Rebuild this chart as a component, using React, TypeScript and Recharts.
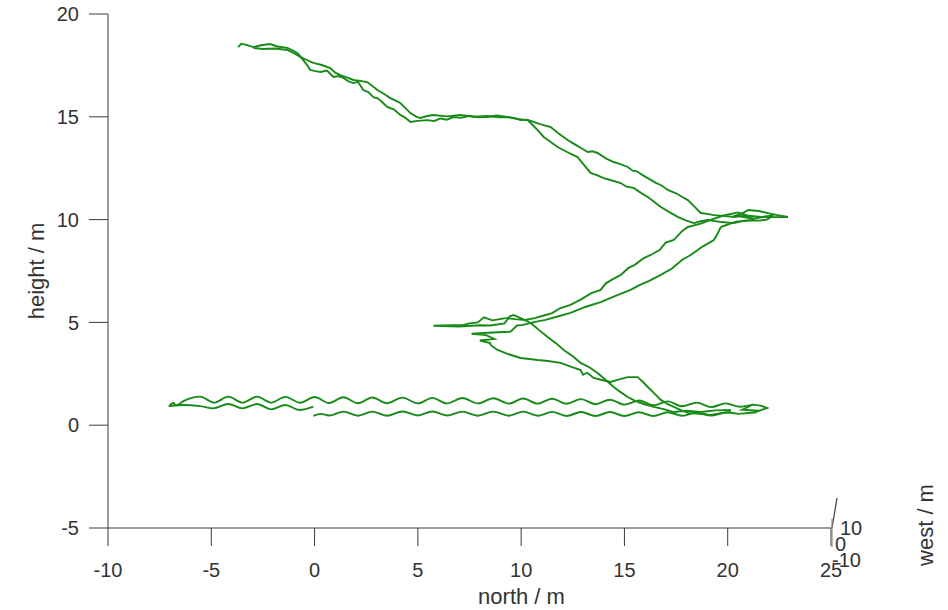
import React from 'react';
import { ComposedChart, Line, XAxis, YAxis } from 'recharts';

type Pt = [number, number];

const northTicks = [-10, -5, 0, 5, 10, 15, 20, 25];
const heightTicks = [-5, 0, 5, 10, 15, 20];
const westTicks = ['10', '0', '-10'];

// bottom walk (north, height)
const lowerWave: Pt[] = [
  [-0.06, 0.45], [0.3, 0.55], [0.7, 0.47], [1.4, 0.66], [2.1, 0.46], [2.8, 0.66], [3.5, 0.46],
  [4.25, 0.67], [5.0, 0.47], [5.7, 0.67], [6.4, 0.47], [7.15, 0.66], [7.9, 0.46], [8.65, 0.66],
  [9.4, 0.46], [10.1, 0.66], [10.8, 0.46], [11.5, 0.65], [12.2, 0.45], [12.9, 0.64], [13.6, 0.45],
  [14.3, 0.64], [15.0, 0.45], [15.7, 0.63], [16.4, 0.45], [17.1, 0.63], [17.8, 0.46], [18.5, 0.62],
  [19.2, 0.47], [19.9, 0.62], [20.5, 0.55],
];

const upperWave: Pt[] = [
  [-7.05, 0.9], [-6.85, 1.08], [-6.7, 0.97], [-6.3, 1.2], [-5.55, 1.39], [-4.85, 1.1], [-4.18, 1.39],
  [-3.5, 1.1], [-2.78, 1.39], [-2.1, 1.1], [-1.42, 1.38], [-0.7, 1.09], [0.0, 1.37], [0.7, 1.08],
  [1.39, 1.36], [2.1, 1.07], [2.8, 1.35], [3.5, 1.07], [4.25, 1.34], [5.0, 1.06], [5.7, 1.33],
  [6.4, 1.06], [7.16, 1.32], [7.9, 1.06], [8.66, 1.31], [9.4, 1.05], [10.1, 1.3], [10.8, 1.05],
  [11.5, 1.29], [12.2, 1.04], [12.9, 1.27], [13.6, 1.02], [14.3, 1.24], [15.0, 1.0], [15.7, 1.2],
  [16.4, 0.97], [17.1, 1.16], [17.8, 0.92], [18.5, 1.1], [19.2, 0.88], [19.9, 1.06], [20.6, 0.9],
  [21.2, 1.0],
];

const stubWave: Pt[] = [
  [-7.0, 0.93], [-6.36, 0.98], [-5.54, 0.93], [-4.91, 0.82], [-4.18, 1.03], [-3.5, 0.82],
  [-2.78, 1.03], [-2.1, 0.77], [-1.42, 0.98], [-0.73, 0.74], [-0.06, 0.9],
];

const rightLoop: Pt[] = [
  [20.5, 0.55], [21.3, 0.62], [21.9, 0.84], [21.6, 0.95], [21.2, 1.0], [20.7, 0.75], [21.5, 0.7],
];

// upper staircase, two passes
const topPassA: Pt[] = [
  [-3.7, 18.39], [-3.55, 18.55], [-3.3, 18.5], [-2.97, 18.39], [-2.6, 18.48], [-2.15, 18.54],
  [-1.8, 18.42], [-1.32, 18.35], [-1.0, 18.2], [-0.84, 18.1], [-0.7, 17.95], [-0.55, 17.76],
  [-0.35, 17.5], [-0.21, 17.28], [0.05, 17.22], [0.28, 17.18], [0.6, 17.25], [0.91, 16.94],
  [1.15, 16.98], [1.39, 16.89], [1.65, 16.72], [1.88, 16.64], [2.1, 16.7], [2.36, 16.3],
  [2.6, 16.2], [2.85, 15.96], [3.05, 15.9], [3.2, 15.78], [3.52, 15.48], [3.85, 15.35],
  [4.15, 15.09], [4.4, 14.95], [4.64, 14.75], [5.0, 14.8], [5.46, 14.84], [5.8, 14.8],
  [6.1, 14.92], [6.4, 14.86], [6.72, 14.99], [7.1, 14.95], [7.5, 15.05], [7.9, 14.97],
  [8.37, 14.99], [8.8, 15.06], [9.34, 14.99], [9.7, 14.93], [9.97, 14.84], [10.3, 14.86],
  [10.6, 14.75], [11.0, 14.62], [11.43, 14.5], [11.8, 14.2], [12.0, 14.05], [12.25, 13.87],
  [12.5, 13.72], [12.7, 13.6], [13.0, 13.42], [13.22, 13.29], [13.45, 13.32], [13.7, 13.24],
  [14.1, 12.98], [14.48, 12.8], [14.8, 12.7], [15.16, 12.56], [15.4, 12.38], [15.6, 12.35],
  [15.9, 12.15], [16.13, 12.02], [16.5, 11.8], [16.8, 11.66], [17.1, 11.44], [17.5, 11.28],
  [17.8, 11.1], [18.07, 10.95], [18.4, 10.62], [18.7, 10.32], [19.0, 10.28], [19.33, 10.22],
  [19.8, 10.18], [20.3, 10.13], [20.9, 10.2], [21.6, 10.13], [22.3, 10.12], [22.91, 10.13],
];

const topPassB: Pt[] = [
  [-2.97, 18.35], [-2.5, 18.3], [-1.9, 18.32], [-1.32, 18.25], [-1.0, 18.1], [-0.69, 17.91],
  [-0.35, 17.75], [-0.06, 17.62], [0.35, 17.52], [0.76, 17.37], [1.0, 17.15], [1.25, 17.03],
  [1.55, 16.92], [1.88, 16.79], [2.2, 16.75], [2.55, 16.69], [2.8, 16.5], [3.04, 16.3],
  [3.35, 16.12], [3.67, 15.91], [3.9, 15.8], [4.15, 15.67], [4.4, 15.42], [4.64, 15.18],
  [4.9, 15.02], [5.12, 14.94], [5.45, 15.04], [5.75, 15.09], [6.4, 15.02], [7.06, 15.09],
  [7.7, 15.0], [8.37, 15.04], [8.9, 14.97], [9.34, 14.99], [9.8, 14.9], [10.31, 14.84],
  [10.46, 14.7], [10.8, 14.35], [11.09, 14.02], [11.4, 13.8], [11.76, 13.53], [12.2, 13.3],
  [12.73, 13.04], [13.05, 12.65], [13.36, 12.27], [13.7, 12.15], [13.99, 12.02], [14.4, 11.9],
  [14.82, 11.78], [15.1, 11.6], [15.45, 11.54], [15.8, 11.3], [16.13, 11.1], [16.45, 10.85],
  [16.76, 10.61], [17.2, 10.35], [17.58, 10.13], [18.0, 9.95], [18.36, 9.83], [18.7, 9.92],
  [19.04, 9.98], [19.7, 9.88], [20.3, 9.83], [20.8, 9.95], [21.27, 9.98],
];

const rightKnot: Pt[] = [
  [22.91, 10.13], [22.4, 10.22], [22.0, 10.3], [21.5, 10.42], [21.0, 10.47], [20.7, 10.3],
  [20.4, 10.2], [20.9, 10.1], [21.3, 10.05], [21.8, 10.15], [22.2, 10.2], [21.9, 10.0],
  [21.5, 9.95], [21.0, 9.95], [20.4, 9.9], [19.67, 9.64],
];

// middle: rising and falling passes
const risePassA: Pt[] = [
  [21.27, 9.98], [20.8, 10.25], [20.5, 10.35], [19.8, 10.2], [19.2, 10.0], [18.7, 9.8],
  [18.07, 9.64], [17.8, 9.45], [17.39, 9.01], [17.0, 8.88], [16.7, 8.52], [16.27, 8.28],
  [15.9, 8.1], [15.5, 7.8], [15.2, 7.65], [14.82, 7.31], [14.4, 7.08], [14.1, 6.9],
  [13.85, 6.58], [13.4, 6.42], [12.9, 6.12], [12.39, 5.85], [11.9, 5.7], [11.5, 5.45],
  [11.18, 5.36], [10.7, 5.22], [10.21, 5.12], [9.7, 5.16], [9.24, 5.21],
];

const risePassB: Pt[] = [
  [19.67, 9.64], [19.5, 9.3], [19.33, 9.01], [18.8, 8.7], [18.21, 8.28], [17.8, 8.05],
  [17.3, 7.62], [16.76, 7.31], [16.2, 7.02], [15.7, 6.8], [15.3, 6.58], [14.6, 6.3],
  [13.85, 5.99], [13.1, 5.75], [12.39, 5.46], [11.8, 5.3], [11.18, 5.12], [10.8, 5.05],
  [10.46, 4.97],
];

const middleKnot: Pt[] = [
  [9.24, 5.21], [8.9, 5.15], [8.6, 5.1], [8.2, 5.25], [7.9, 5.0], [7.5, 4.95], [7.2, 4.88],
  [5.75, 4.84], [7.0, 4.8], [8.0, 4.86], [8.5, 4.85], [9.2, 4.95], [9.45, 5.3], [9.63, 5.36],
  [10.0, 5.2], [10.46, 4.97], [10.1, 4.88], [9.8, 4.85], [9.49, 4.55], [8.9, 4.52], [8.4, 4.5],
  [7.6, 4.45], [8.3, 4.38], [8.7, 4.2], [8.0, 4.12], [8.5, 4.0], [8.52, 3.9],
];

const fallPassA: Pt[] = [
  [10.46, 4.97], [10.9, 4.6], [11.28, 4.29], [11.7, 3.98], [12.06, 3.66], [12.5, 3.35],
  [12.88, 3.03], [13.3, 2.82], [13.7, 2.54], [14.1, 2.2], [14.48, 1.86], [14.8, 1.62],
  [15.16, 1.37], [15.5, 1.2], [15.79, 1.08], [16.1, 0.98], [16.42, 0.89], [16.9, 0.78],
  [17.39, 0.64], [18.0, 0.7], [18.7, 0.64], [19.4, 0.72], [20.15, 0.74],
];

const fallPassB: Pt[] = [
  [8.52, 3.9], [8.86, 3.66], [9.4, 3.45], [9.97, 3.27], [10.4, 3.22], [10.8, 3.17],
  [11.3, 3.12], [11.91, 3.03], [12.4, 2.85], [12.88, 2.68], [13.0, 2.45], [13.2, 2.55],
  [13.51, 2.3], [13.9, 2.2], [14.33, 2.1], [14.7, 2.22], [15.16, 2.34], [15.64, 2.34],
  [15.9, 2.1], [16.13, 1.86], [16.45, 1.55], [16.76, 1.23], [17.1, 1.02], [17.39, 0.89],
  [17.7, 0.75], [18.07, 0.6], [18.6, 0.55], [19.18, 0.5], [19.7, 0.58], [20.15, 0.64],
];

const waves = [lowerWave, upperWave, stubWave];
const paths = [rightLoop, topPassA, topPassB, rightKnot, risePassA, risePassB, middleKnot, fallPassA, fallPassB];

const toRows = (pts: Pt[]) => pts.map(([x, y]) => ({ x, y }));

const GREEN = '#178a17';
const AXIS = '#3a3a3a';
const FONT = '"Liberation Sans", Arial, Helvetica, sans-serif';
const tickStyle = { fill: '#333333', fontSize: 20, fontFamily: FONT };
const labelStyle = { fill: '#333333', fontSize: 22, fontFamily: FONT };

export default function App() {
  return (
    <div style={{ position: 'absolute', left: 0, top: 0, width: 948, height: 610, background: '#ffffff' }}>
      <ComposedChart width={948} height={610} margin={{ top: 14, right: 117, left: 0, bottom: 0 }}>
        <XAxis
          dataKey="x"
          type="number"
          domain={[-10, 25]}
          ticks={northTicks}
          allowDataOverflow
          height={82}
          stroke={AXIS}
          tickSize={18}
          tickMargin={17}
          tick={tickStyle}
          label={{ value: 'north / m', position: 'insideBottom', offset: 6, dx: 52, style: labelStyle }}
        />
        <YAxis
          type="number"
          domain={[-5, 20]}
          ticks={heightTicks}
          allowDataOverflow
          width={108}
          stroke={AXIS}
          tickSize={19}
          tickMargin={10}
          tick={tickStyle}
          label={{ value: 'height / m', angle: -90, position: 'insideLeft', offset: 36, style: { ...labelStyle, textAnchor: 'middle' } }}
        />
        {waves.map((pts, i) => (
          <Line key={'w' + i} data={toRows(pts)} dataKey="y" type="monotone" dot={false} activeDot={false}
            stroke={GREEN} strokeWidth={1.9} isAnimationActive={false} />
        ))}
        {paths.map((pts, i) => (
          <Line key={'p' + i} data={toRows(pts)} dataKey="y" type="linear" dot={false} activeDot={false}
            stroke={GREEN} strokeWidth={1.9} isAnimationActive={false} />
        ))}
      </ComposedChart>
      {/* west axis, seen almost edge-on */}
      <svg width={948} height={610} style={{ position: 'absolute', left: 0, top: 0, pointerEvents: 'none' }}>
        <line x1={837} y1={498} x2={832} y2={528} stroke={AXIS} strokeWidth={1.2} />
        <line x1={832} y1={519} x2={832} y2={547} stroke="#888888" strokeWidth={1.2} />
        <g style={{ fill: '#333333', fontSize: 20, fontFamily: FONT }}>
          <text x={840} y={535}>{westTicks[0]}</text>
          <text x={835} y={551}>{westTicks[1]}</text>
          <text x={832} y={567}>{westTicks[2]}</text>
          <text x={933} y={525} transform="rotate(-90 933 525)" textAnchor="middle" style={{ fontSize: 22 }}>west / m</text>
        </g>
      </svg>
    </div>
  );
}
